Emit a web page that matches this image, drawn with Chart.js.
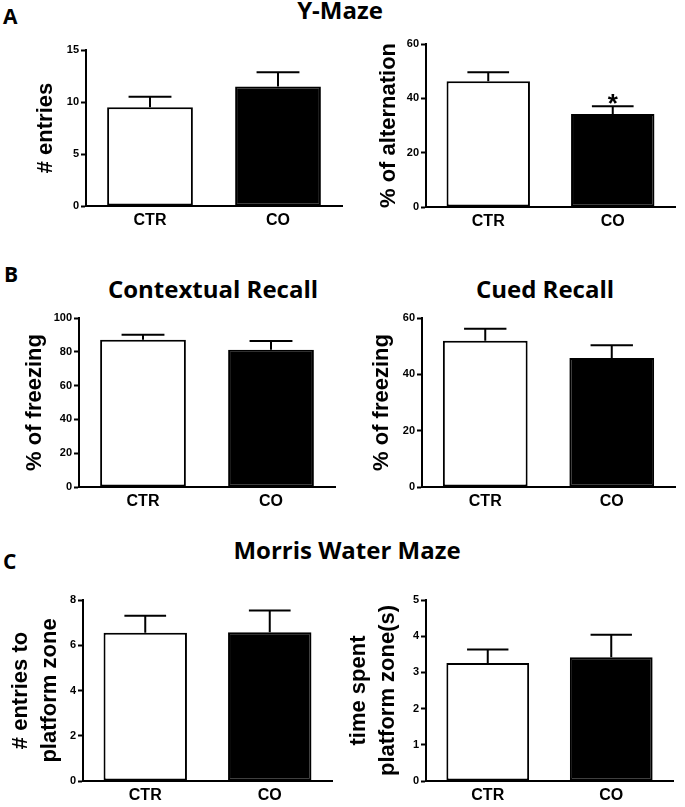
<!DOCTYPE html>
<html>
<head>
<meta charset="utf-8">
<script src="https://cdn.jsdelivr.net/npm/chart.js@4.4.1/dist/chart.umd.min.js"></script>
<style>
  body { margin: 0; background: #fff; }
  #fig { position: relative; width: 685px; height: 807px; overflow: hidden; }
  #fig canvas { position: absolute; }
  .titulo { position: absolute; font-family: 'Open Sans', sans-serif; font-weight: bold; font-size: 24px; line-height: 1; white-space: nowrap; transform: translateX(-50%); color: #000; }
  .letra { position: absolute; font-family: 'Open Sans', sans-serif; font-weight: bold; font-size: 21px; line-height: 1; color: #000; }
</style>
</head>
<body>
<div id="fig">
  <div class="letra" style="left:3px; top:6px;">A</div>
  <div class="letra" style="left:4px; top:264px;">B</div>
  <div class="letra" style="left:3px; top:551px;">C</div>
  <div class="titulo" style="left:340px; top:-2px;">Y-Maze</div>
  <div class="titulo" style="left:213px; top:277px;">Contextual Recall</div>
  <div class="titulo" style="left:545px; top:277px;">Cued Recall</div>
  <div class="titulo" style="left:347px; top:538px;">Morris Water Maze</div>

  <canvas id="entradas" width="345" height="200" style="left:0px; top:30px;"></canvas>
  <canvas id="alternancia" width="340" height="200" style="left:345px; top:30px;"></canvas>
  <canvas id="contextual" width="345" height="210" style="left:0px; top:300px;"></canvas>
  <canvas id="cued" width="340" height="210" style="left:345px; top:300px;"></canvas>
  <canvas id="plataforma" width="345" height="232" style="left:0px; top:575px;"></canvas>
  <canvas id="tempo" width="340" height="232" style="left:345px; top:575px;"></canvas>
</div>
<script>
// grupos
const grupos = ['CTR', 'CO'];

// Y-Maze
const entradas = [9.5, 11.5];
const entradasErro = [1.0, 1.35];
const alternancia = [46.3, 34.2];
const alternanciaErro = [3.3, 2.9];
const alternanciaSig = ['', '*'];

// medo condicionado
const contextual = [87.2, 81.2];
const contextualErro = [2.9, 5.2];
const cued = [51.9, 45.8];
const cuedErro = [4.3, 4.5];

// Morris water maze
const plataforma = [6.55, 6.57];
const plataformaErro = [0.75, 0.97];
const tempo = [3.26, 3.42];
const tempoErro = [0.37, 0.62];

Chart.defaults.font.family = "'Liberation Sans', Arial, sans-serif";
Chart.defaults.font.weight = 'bold';
Chart.defaults.color = '#000';

// barras de erro (so para cima) e asterisco
const barrasErro = {
  id: 'barrasErro',
  afterDatasetsDraw(chart, args, opts) {
    const ctx = chart.ctx;
    const y = chart.scales.y;
    const meta = chart.getDatasetMeta(0);
    ctx.save();
    ctx.strokeStyle = '#000';
    ctx.fillStyle = '#000';
    ctx.lineWidth = 2;
    meta.data.forEach((bar, i) => {
      const valor = chart.data.datasets[0].data[i];
      const topo = y.getPixelForValue(valor + opts.erros[i]);
      const meia = bar.width / 4;
      ctx.beginPath();
      ctx.moveTo(bar.x, bar.y);
      ctx.lineTo(bar.x, topo);
      ctx.moveTo(bar.x - meia, topo);
      ctx.lineTo(bar.x + meia, topo);
      ctx.stroke();
      if (opts.sig && opts.sig[i]) {
        ctx.font = "bold 26px 'Liberation Sans', Arial";
        ctx.textAlign = 'center';
        ctx.textBaseline = 'alphabetic';
        ctx.fillText(opts.sig[i], bar.x, topo + 6);
      }
    });
    ctx.restore();
  }
};

// caixa = posicao do canvas e dos eixos na figura
function criarGraficoBarra(id, valores, erros, titulo, max, passo, caixa, sig) {
  const linhas = Array.isArray(titulo) ? 1.32 : 1.2;
  const meiaLinha = 22 * linhas / 2;
  return new Chart(document.getElementById(id), {
    type: 'bar',
    data: {
      labels: grupos,
      datasets: [{
        data: valores,
        backgroundColor: ['#fff', '#000'],
        borderColor: '#000',
        borderWidth: 2,
        borderSkipped: false,
        barPercentage: 0.67,
        categoryPercentage: 1
      }]
    },
    options: {
      responsive: false,
      animation: false,
      events: [],
      layout: {
        padding: { top: caixa.topo - caixa.t, right: caixa.l + caixa.w - caixa.direita, bottom: 0, left: 0 }
      },
      plugins: {
        legend: { display: false },
        tooltip: { enabled: false },
        barrasErro: { erros: erros, sig: sig }
      },
      scales: {
        x: {
          grid: { display: false, drawTicks: false },
          border: { display: true, color: '#000', width: 2 },
          ticks: { font: { size: 16, weight: 'bold' }, padding: 5 },
          afterFit: (s) => { s.height = caixa.t + caixa.h - caixa.zero; }
        },
        y: {
          min: 0,
          max: max,
          grid: { drawOnChartArea: false, drawTicks: true, tickLength: 5, tickColor: '#000', tickWidth: 2 },
          border: { display: true, color: '#000', width: 2 },
          ticks: { stepSize: passo, font: { size: 11, weight: 'bold' }, padding: 2 },
          title: {
            display: true,
            text: titulo,
            font: { size: 22, weight: 'bold', lineHeight: linhas },
            padding: { top: caixa.tituloX - caixa.l - meiaLinha, bottom: 0 }
          },
          afterFit: (s) => { s.width = caixa.eixo - caixa.l; }
        }
      }
    },
    plugins: [barrasErro]
  });
}

// INITIALIZE
criarGraficoBarra('entradas', entradas, entradasErro, '# entries', 15, 5,
  { l: 0, t: 30, w: 345, h: 200, eixo: 86, topo: 50, zero: 206, direita: 342, tituloX: 46 });
criarGraficoBarra('alternancia', alternancia, alternanciaErro, '% of alternation', 60, 20,
  { l: 345, t: 30, w: 340, h: 200, eixo: 426, topo: 44, zero: 207, direita: 675, tituloX: 389 }, alternanciaSig);
criarGraficoBarra('contextual', contextual, contextualErro, '% of freezing', 100, 20,
  { l: 0, t: 300, w: 345, h: 210, eixo: 79, topo: 318, zero: 487, direita: 335, tituloX: 35 });
criarGraficoBarra('cued', cued, cuedErro, '% of freezing', 60, 20,
  { l: 345, t: 300, w: 340, h: 210, eixo: 422, topo: 318, zero: 487, direita: 675, tituloX: 382 });
criarGraficoBarra('plataforma', plataforma, plataformaErro, ['# entries to', 'platform zone'], 8, 2,
  { l: 0, t: 575, w: 345, h: 232, eixo: 83, topo: 600, zero: 781, direita: 332, tituloX: 21 });
criarGraficoBarra('tempo', tempo, tempoErro, ['time spent', 'platform zone(s)'], 5, 1,
  { l: 345, t: 575, w: 340, h: 232, eixo: 426, topo: 600, zero: 781, direita: 673, tituloX: 359 });
</script>
</body>
</html>
